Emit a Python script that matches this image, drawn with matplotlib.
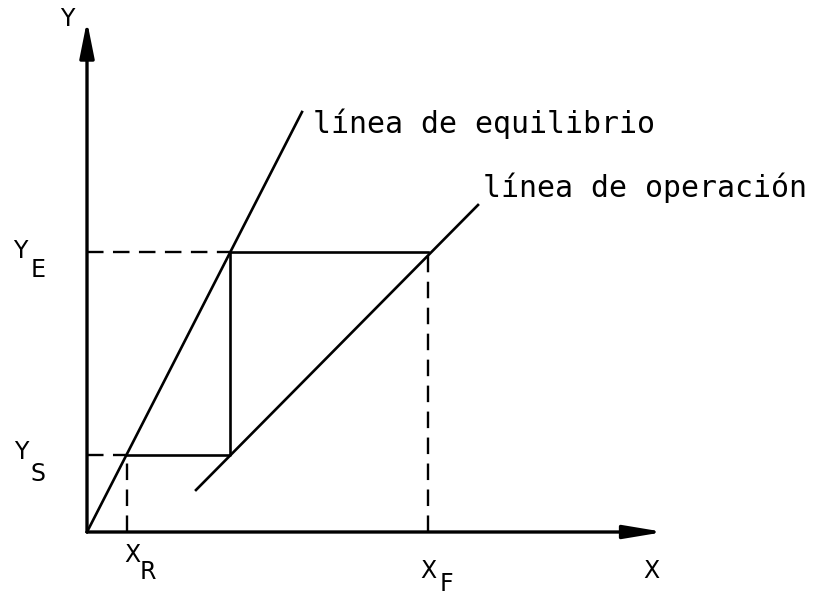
import matplotlib
matplotlib.use("Agg")
import matplotlib.pyplot as plt

# diagram coordinates (origin at the axes corner)
eq_x = [0, 215]
eq_y = [0, 420]
op_x = [109, 391]
op_y = [42, 327]

x_R, x_F = 40, 341
y_S, y_E = 77, 280

# stage construction: from (x_F, y_E) over to equilibrium, down to operation, over to equilibrium
stairs_x = [x_F, 143, 143, x_R]
stairs_y = [y_E, y_E, y_S, y_S]

fig = plt.figure(figsize=(8.21, 5.98), dpi=100)
ax = fig.add_axes([0, 0, 1, 1])
ax.set_xlim(-87, 734)
ax.set_ylim(-66, 532)
ax.axis("off")

k = "black"
# axes with arrows
ax.annotate("", xy=(0, 511), xytext=(0, 0),
            arrowprops=dict(arrowstyle="-|>,head_length=1.1,head_width=0.22",
                            lw=2.4, color=k, mutation_scale=20, shrinkA=0, shrinkB=0))
ax.annotate("", xy=(577, 0), xytext=(0, 0),
            arrowprops=dict(arrowstyle="-|>,head_length=1.2,head_width=0.2",
                            lw=2.4, color=k, mutation_scale=20, shrinkA=0, shrinkB=0))

ax.plot(eq_x, eq_y, color=k, lw=1.9)
ax.plot(op_x, op_y, color=k, lw=1.9)
ax.plot(stairs_x, stairs_y, color=k, lw=1.9)

dash = dict(color=k, lw=1.7, dashes=(7, 4))
ax.plot([0, 143], [y_E, y_E], **dash)
ax.plot([0, x_R], [y_S, y_S], **dash)
ax.plot([x_R, x_R], [0, y_S], **dash)
ax.plot([x_F, x_F], [0, y_E], **dash)

lab = dict(fontsize=17, color=k, family="DejaVu Sans", ha="center", va="center")
ax.text(-20, 513, "Y", **lab)
ax.text(564, -39, "X", **lab)
ax.text(-67, 281, "Y", **lab)
ax.text(-49, 262, "E", **lab)
ax.text(-66, 80, "Y", **lab)
ax.text(-49, 58, "S", **lab)
ax.text(45, -23, "X", **lab)
ax.text(61, -40, "R", **lab)
ax.text(341, -39, "X", **lab)
ax.text(359, -52, "F", **lab)

txt = dict(fontsize=21.5, color=k, family="DejaVu Sans Mono", va="center", ha="left")
ax.text(226, 408, "línea de equilibrio", **txt)
ax.text(396, 344, "línea de operación", **txt)

fig.savefig("out.png", dpi=100)
